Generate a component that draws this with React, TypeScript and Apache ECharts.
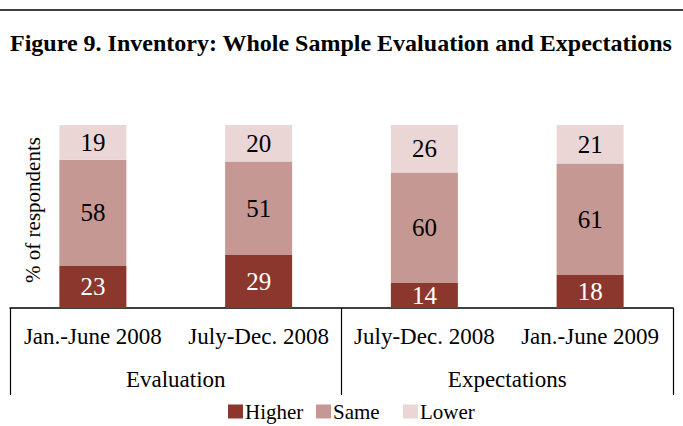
import React, { useEffect, useRef } from "react";
import * as echarts from "echarts";

const categories = ["Jan.-June 2008", "July-Dec. 2008", "July-Dec. 2008", "Jan.-June 2009"];
const groups = ["Evaluation", "Expectations"];
const higher = [23, 29, 14, 18];
const same = [58, 51, 60, 61];
const lower = [19, 20, 26, 21];
const seriesNames = ["Higher", "Same", "Lower"];
const titleText = "Figure 9. Inventory: Whole Sample Evaluation and Expectations";
const yLabel = "% of respondents";

const FONT = "'Liberation Serif', 'Times New Roman', serif";

export default function App() {
  const ref = useRef<HTMLDivElement>(null);
  useEffect(() => {
    if (!ref.current) return;
    const chart = echarts.init(ref.current, null, { renderer: "svg" });
    const colors = ["#8C372E", "#C69893", "#E9D6D5"];
    const data = [higher, same, lower];
    const legendLefts = [228, 316, 403];
    chart.setOption({
      animation: false,
      backgroundColor: "#fff",
      textStyle: { fontFamily: FONT },
      title: {
        text: titleText,
        left: 10,
        top: 31,
        padding: 0,
        textStyle: { fontFamily: FONT, fontWeight: "bold", fontSize: 24, color: "#000" },
      },
      legend: seriesNames.map((name, i) => ({
        data: [name],
        top: 401,
        left: legendLefts[i],
        padding: 0,
        icon: "rect",
        itemWidth: 15,
        itemHeight: 14,
        textStyle: { fontFamily: FONT, fontSize: 21, color: "#000", padding: [0, 0, 0, -3] },
      })),
      grid: { left: 10, right: 10, top: 125, bottom: 118 },
      xAxis: [
        {
          type: "category",
          data: categories,
          axisLine: { show: true, lineStyle: { color: "#000", width: 1.5 } },
          axisTick: { show: false },
          axisLabel: { margin: 17, fontFamily: FONT, fontSize: 23, color: "#000", interval: 0 },
        },
        {
          type: "category",
          data: groups,
          position: "bottom",
          axisLine: { show: false },
          axisTick: { show: true, length: 87, lineStyle: { color: "#000", width: 1.2 } },
          axisLabel: { margin: 60, fontFamily: FONT, fontSize: 23, color: "#000" },
        },
      ],
      yAxis: { type: "value", min: 0, max: 100, show: false },
      graphic: [
        {
          type: "line",
          shape: { x1: 0, y1: 10, x2: 683, y2: 10 },
          style: { stroke: "#000", lineWidth: 1.5 },
        },
        {
          type: "text",
          x: 33,
          y: 210,
          rotation: Math.PI / 2,
          style: {
            text: yLabel,
            fontFamily: FONT,
            fontSize: 21,
            fill: "#000",
            textAlign: "center",
            textVerticalAlign: "middle",
          },
        },
      ],
      series: seriesNames.map((name, i) => ({
        name,
        type: "bar",
        stack: "total",
        barWidth: 67,
        data: data[i],
        itemStyle: { color: colors[i] },
        label: {
          show: true,
          position: "inside",
          fontFamily: FONT,
          fontSize: 25,
          color: i === 0 ? "#fff" : "#000",
        },
      })),
    });
    return () => chart.dispose();
  }, []);
  return <div ref={ref} style={{ position: "fixed", left: 0, top: 0, width: 683, height: 426 }} />;
}
